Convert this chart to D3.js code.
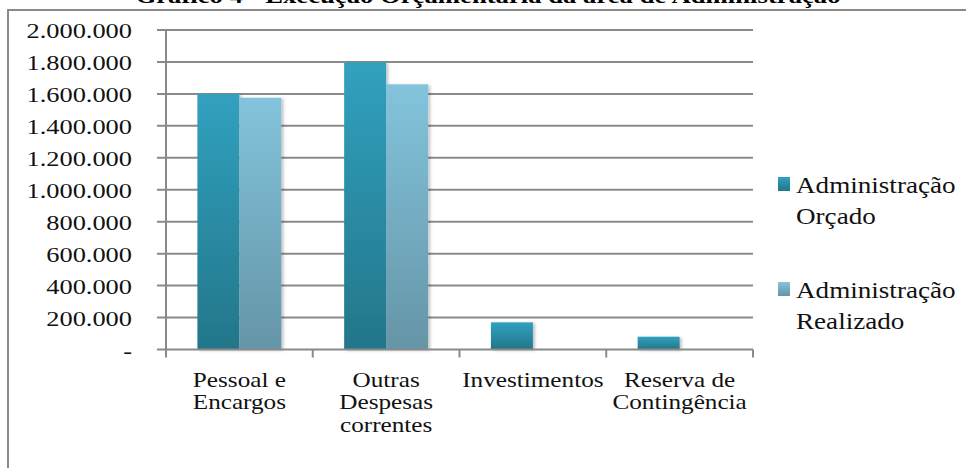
<!DOCTYPE html>
<html>
<head>
<meta charset="utf-8">
<script src="https://cdn.jsdelivr.net/npm/d3@7"></script>
<style>
  body { margin: 0; background: #fff; }
  svg { display: block; font-family: "Liberation Serif", "Times New Roman", serif; }
</style>
</head>
<body>
<div id="chart"></div>
<script>
const width = 966;
const height = 468;

// dados
const categorias = ["Pessoal e\nEncargos", "Outras\nDespesas\ncorrentes", "Investimentos", "Reserva de\nContingência"];
const orcado = [1600000, 1798000, 170000, 80000];
const realizado = [1576000, 1660000, 0, 0];
const series = ["Administração\nOrçado", "Administração\nRealizado"];
const yTicks = [0, 200000, 400000, 600000, 800000, 1000000, 1200000, 1400000, 1600000, 1800000, 2000000];

const plot = { left: 166, right: 753, top: 30, bottom: 349.5 };
const stretch = 1.2;

const locale = d3.formatLocale({ decimal: ",", thousands: ".", grouping: [3], currency: ["R$", ""] });
const fmt = v => v === 0 ? "-" : locale.format(",")(v);

const svg = d3.select("#chart")
    .append("svg")
    .attr("width", width)
    .attr("height", height);

const defs = svg.append("defs");

function gradient(id, top, bottom) {
    const g = defs.append("linearGradient")
        .attr("id", id)
        .attr("x1", 0).attr("y1", 0)
        .attr("x2", 0).attr("y2", 1);
    g.append("stop").attr("offset", "0%").attr("stop-color", top);
    g.append("stop").attr("offset", "100%").attr("stop-color", bottom);
}
gradient("gOrcado", "#31a1bf", "#237689");
gradient("gRealizado", "#83c4dc", "#6595a7");

defs.append("filter")
    .attr("id", "sombra")
    .attr("x", "-20%").attr("y", "-20%")
    .attr("width", "150%").attr("height", "150%")
    .append("feDropShadow")
    .attr("dx", 2).attr("dy", 1)
    .attr("stdDeviation", 1.5)
    .attr("flood-color", "#000")
    .attr("flood-opacity", 0.25);

const fills = ["url(#gOrcado)", "url(#gRealizado)"];

// moldura
svg.append("rect")
    .attr("x", 8).attr("y", 10)
    .attr("width", 970).attr("height", 470)
    .attr("fill", "none")
    .attr("stroke", "#8a8a8a")
    .attr("stroke-width", 2);

// título (cortado no topo, como na imagem)
svg.append("text")
    .attr("x", 488).attr("y", 3)
    .attr("text-anchor", "middle")
    .attr("font-size", 21)
    .attr("font-weight", "bold")
    .attr("textLength", 705)
    .attr("lengthAdjust", "spacingAndGlyphs")
    .text("Gráfico 4 - Execução Orçamentária da área de Administração");

const x0 = d3.scaleBand()
    .domain(d3.range(categorias.length))
    .range([plot.left, plot.right])
    .paddingInner(0.428)
    .paddingOuter(0.214);

const x1 = d3.scaleBand()
    .domain([0, 1])
    .range([0, x0.bandwidth()]);

const y = d3.scaleLinear()
    .domain([0, 2000000])
    .range([plot.bottom, plot.top]);

// grade
svg.append("g")
    .selectAll("line")
    .data(yTicks.filter(d => d > 0))
    .join("line")
    .attr("x1", plot.left - 9)
    .attr("x2", plot.right)
    .attr("y1", d => y(d))
    .attr("y2", d => y(d))
    .attr("stroke", "#8a8a8a")
    .attr("stroke-width", 2);

// barras
const dados = categorias.map((c, i) => [orcado[i], realizado[i]]);

const grupos = svg.append("g")
    .selectAll("g")
    .data(dados)
    .join("g")
    .attr("transform", (d, i) => `translate(${x0(i)},0)`);

grupos.selectAll("rect")
    .data(d => d.map((v, s) => ({ v, s })).filter(d => d.v > 0))
    .join("rect")
    .attr("x", d => x1(d.s))
    .attr("width", x1.bandwidth())
    .attr("y", d => y(d.v))
    .attr("height", d => y(0) - y(d.v))
    .attr("fill", d => fills[d.s])
    .attr("filter", "url(#sombra)");

// eixo y
svg.append("line")
    .attr("x1", plot.left).attr("x2", plot.left)
    .attr("y1", plot.top).attr("y2", plot.bottom)
    .attr("stroke", "#8a8a8a")
    .attr("stroke-width", 2);

svg.append("g")
    .selectAll("text")
    .data(yTicks)
    .join("text")
    .attr("transform", d => `translate(132,${y(d) + 8}) scale(${stretch},1)`)
    .attr("text-anchor", "end")
    .attr("font-size", 22)
    .attr("fill", "#111")
    .text(fmt);

// eixo x
svg.append("line")
    .attr("x1", plot.left - 9).attr("x2", plot.right)
    .attr("y1", plot.bottom).attr("y2", plot.bottom)
    .attr("stroke", "#8a8a8a")
    .attr("stroke-width", 2);

const limites = d3.range(categorias.length + 1).map(i => plot.left + i * x0.step());
svg.append("g")
    .selectAll("line")
    .data(limites)
    .join("line")
    .attr("x1", d => d).attr("x2", d => d)
    .attr("y1", plot.bottom).attr("y2", plot.bottom + 8)
    .attr("stroke", "#8a8a8a")
    .attr("stroke-width", 2);

const rotulos = svg.append("g")
    .selectAll("text")
    .data(categorias)
    .join("text")
    .attr("transform", (d, i) => `translate(${x0(i) + x0.bandwidth() / 2},387) scale(${stretch},1)`)
    .attr("text-anchor", "middle")
    .attr("font-size", 21)
    .attr("fill", "#111");

rotulos.selectAll("tspan")
    .data(d => d.split("\n"))
    .join("tspan")
    .attr("x", 0)
    .attr("y", (d, i) => i * 22.5)
    .text(d => d);

// legenda
const legenda = svg.append("g")
    .selectAll("g")
    .data(series)
    .join("g")
    .attr("transform", (d, i) => `translate(778,${177 + i * 105})`);

legenda.append("rect")
    .attr("width", 12)
    .attr("height", 14)
    .attr("fill", (d, i) => fills[i]);

const legTexto = legenda.append("text")
    .attr("transform", `translate(18,16) scale(1.13,1)`)
    .attr("font-size", 24)
    .attr("fill", "#111");

legTexto.selectAll("tspan")
    .data(d => d.split("\n"))
    .join("tspan")
    .attr("x", 0)
    .attr("y", (d, i) => i * 31.5)
    .text(d => d);
</script>
</body>
</html>
